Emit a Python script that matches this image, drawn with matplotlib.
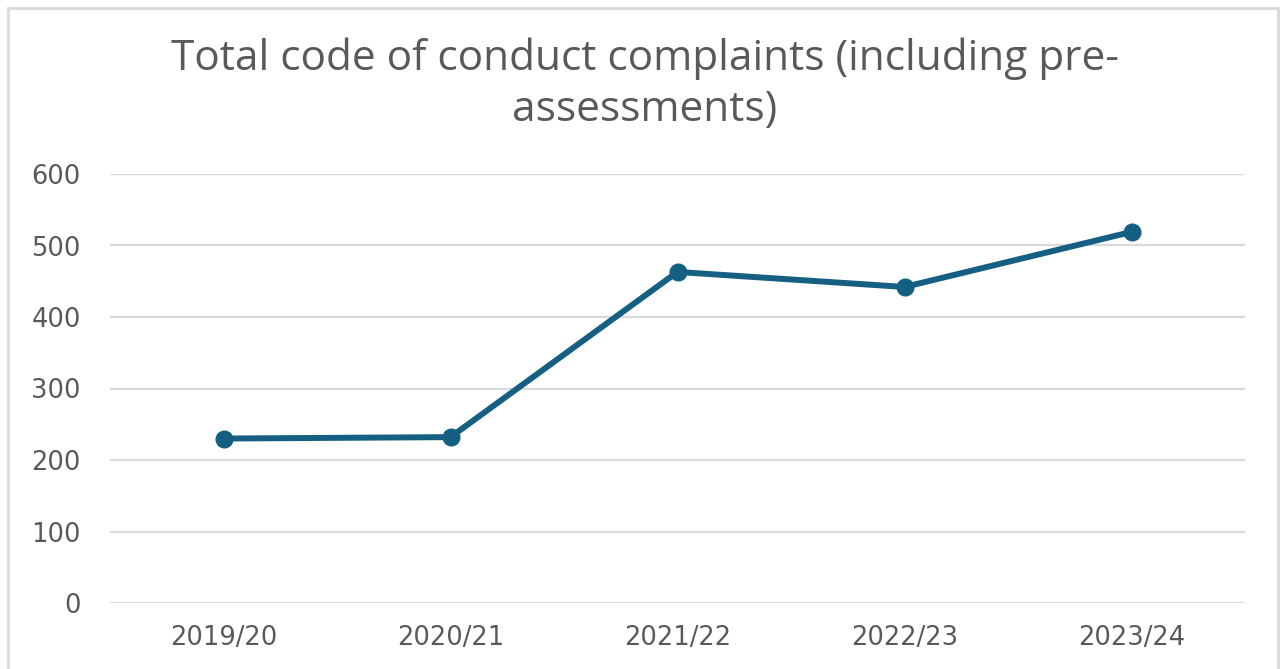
import matplotlib
matplotlib.use("Agg")
import matplotlib.pyplot as plt
from matplotlib.patches import Rectangle

categories = ["2019/20", "2020/21", "2021/22", "2022/23", "2023/24"]
complaints = [230, 232, 463, 442, 519]
y_ticks = [0, 100, 200, 300, 400, 500, 600]
title_lines = ["Total code of conduct complaints (including pre-", "assessments)"]

W, H = 1282, 669
fig = plt.figure(figsize=(W / 100, H / 100), dpi=100)
fig.patch.set_facecolor("white")

ax = fig.add_axes([110 / W, 1 - 603 / H, (1245 - 110) / W, (603 - 174) / H])
x = list(range(len(categories)))
ax.plot(x, complaints, color="#156082", lw=4.3, marker="o", markersize=12,
        solid_capstyle="round", solid_joinstyle="round", zorder=3)

ax.set_xlim(-0.5, len(categories) - 0.5)
ax.set_ylim(0, 600)
ax.set_yticks(y_ticks)
ax.set_xticks(x)
ax.set_xticklabels(categories)
ax.grid(axis="y", color="#d9d9d9", lw=1.6)
ax.set_axisbelow(True)
for s in ax.spines.values():
    s.set_visible(False)
ax.tick_params(axis="both", length=0, labelsize=18.5, labelcolor="#595959")
ax.tick_params(axis="y", pad=21)
ax.tick_params(axis="x", pad=16)
for lab in ax.get_xticklabels() + ax.get_yticklabels():
    lab.set_fontfamily("DejaVu Sans")

for line, base in zip(title_lines, [70, 121]):
    fig.text(645 / W, 1 - base / H, line, ha="center", va="baseline",
             fontsize=30.5, color="#595959", family="Open Sans")

fig.patches.append(Rectangle((8 / W, -0.05), (1278 - 8) / W, 1 - 8 / H + 0.05,
                             transform=fig.transFigure, fill=False,
                             edgecolor="#d9d9d9", lw=2))

fig.savefig("out.png", dpi=100)
